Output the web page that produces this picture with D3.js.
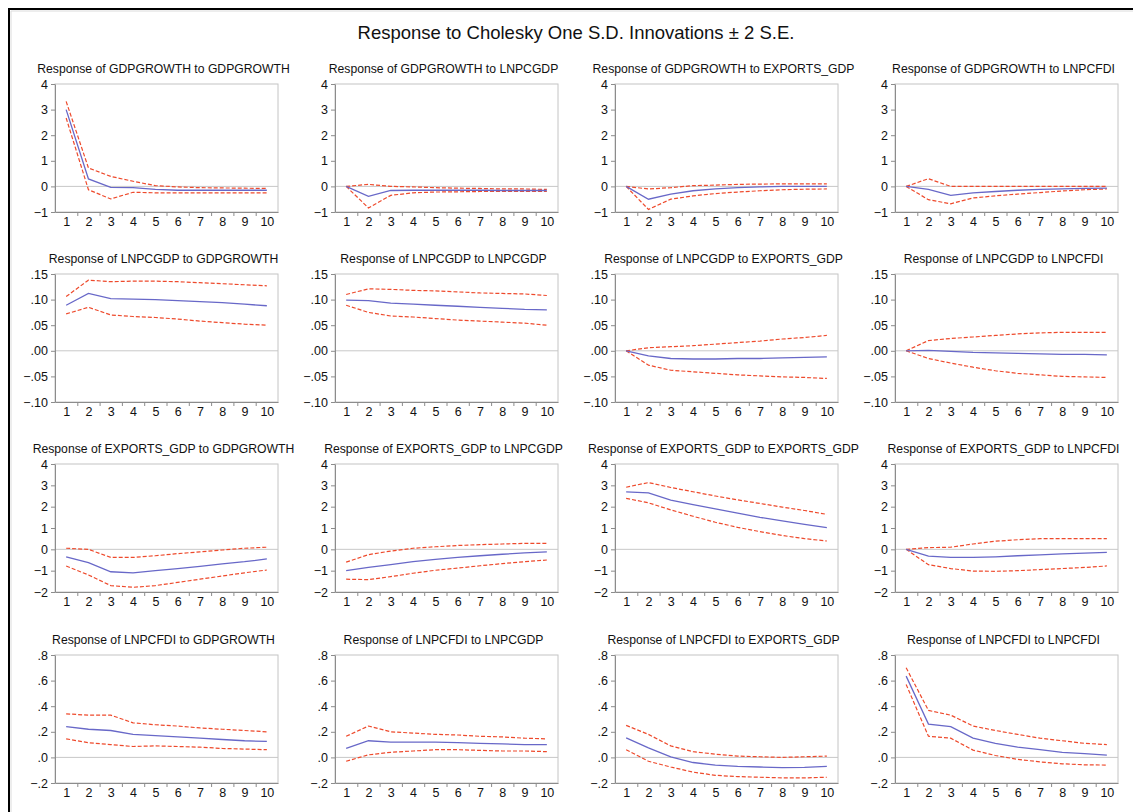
<!DOCTYPE html>
<html>
<head>
<meta charset="utf-8">
<script src="https://cdn.jsdelivr.net/npm/d3@7"></script>
<style>
  body { margin: 0; background: #fff; }
  text { font-family: "Liberation Sans", Arial, sans-serif; }
</style>
</head>
<body>
<div id="chart"></div>
<script>
const variables = ["GDPGROWTH", "LNPCGDP", "EXPORTS_GDP", "LNPCFDI"];
const periods = [1, 2, 3, 4, 5, 6, 7, 8, 9, 10];

// y range / ticks per row (response variable)
const rowDomains = [[-1, 4], [-0.10, 0.15], [-2, 4], [-0.2, 0.8]];
const rowTicks = [
  [-1, 0, 1, 2, 3, 4],
  [-0.10, -0.05, 0, 0.05, 0.10, 0.15],
  [-2, -1, 0, 1, 2, 3, 4],
  [-0.2, 0, 0.2, 0.4, 0.6, 0.8]
];
const rowTickLabels = [
  ["\u22121", "0", "1", "2", "3", "4"],
  ["\u2212.10", "\u2212.05", ".00", ".05", ".10", ".15"],
  ["\u22122", "\u22121", "0", "1", "2", "3", "4"],
  ["\u2212.2", ".0", ".2", ".4", ".6", ".8"]
];

// response[row][col] : response of variables[row] to shock in variables[col]
const response = [
  [
    [3.00, 0.29, -0.04, -0.05, -0.12, -0.15, -0.15, -0.15, -0.15, -0.15],
    [0, -0.39, -0.16, -0.15, -0.15, -0.15, -0.15, -0.16, -0.16, -0.16],
    [0, -0.50, -0.30, -0.17, -0.10, -0.05, -0.02, 0.00, 0.00, 0.00],
    [0, -0.12, -0.35, -0.25, -0.20, -0.15, -0.12, -0.10, -0.08, -0.07]
  ],
  [
    [0.089, 0.112, 0.102, 0.101, 0.100, 0.098, 0.096, 0.094, 0.091, 0.088],
    [0.099, 0.098, 0.093, 0.091, 0.089, 0.087, 0.085, 0.083, 0.081, 0.080],
    [0, -0.010, -0.015, -0.016, -0.016, -0.015, -0.015, -0.014, -0.013, -0.012],
    [0, 0.001, -0.001, -0.003, -0.004, -0.005, -0.006, -0.007, -0.007, -0.008]
  ],
  [
    [-0.35, -0.62, -1.05, -1.10, -1.00, -0.90, -0.80, -0.68, -0.58, -0.45],
    [-1.00, -0.85, -0.72, -0.58, -0.47, -0.38, -0.30, -0.23, -0.17, -0.12],
    [2.69, 2.65, 2.31, 2.10, 1.90, 1.70, 1.50, 1.33, 1.17, 1.02],
    [0, -0.32, -0.38, -0.38, -0.35, -0.30, -0.26, -0.21, -0.18, -0.14]
  ],
  [
    [0.24, 0.22, 0.21, 0.18, 0.17, 0.16, 0.15, 0.14, 0.13, 0.125],
    [0.07, 0.13, 0.12, 0.12, 0.12, 0.115, 0.11, 0.105, 0.10, 0.10],
    [0.152, 0.075, 0.005, -0.04, -0.06, -0.07, -0.075, -0.08, -0.078, -0.07],
    [0.635, 0.26, 0.24, 0.15, 0.11, 0.08, 0.06, 0.04, 0.03, 0.017]
  ]
];

const upperBand = [
  [
    [3.32, 0.72, 0.39, 0.20, 0.03, -0.02, -0.05, -0.06, -0.07, -0.08],
    [0, 0.08, 0.00, -0.02, -0.05, -0.07, -0.08, -0.10, -0.10, -0.12],
    [0, -0.10, -0.05, 0.03, 0.05, 0.08, 0.09, 0.10, 0.10, 0.10],
    [0, 0.30, 0.00, 0.00, 0.00, 0.00, 0.00, 0.00, 0.00, 0.00]
  ],
  [
    [0.106, 0.138, 0.135, 0.136, 0.136, 0.135, 0.133, 0.131, 0.129, 0.127],
    [0.110, 0.121, 0.120, 0.118, 0.117, 0.115, 0.113, 0.112, 0.111, 0.108],
    [0, 0.006, 0.008, 0.010, 0.013, 0.016, 0.019, 0.023, 0.026, 0.030],
    [0, 0.020, 0.024, 0.027, 0.030, 0.033, 0.035, 0.036, 0.036, 0.036]
  ],
  [
    [0.05, 0.00, -0.38, -0.38, -0.30, -0.20, -0.12, -0.03, 0.05, 0.10],
    [-0.60, -0.25, -0.08, 0.05, 0.12, 0.18, 0.22, 0.25, 0.28, 0.28],
    [2.91, 3.13, 2.90, 2.70, 2.50, 2.32, 2.15, 1.98, 1.82, 1.64],
    [0, 0.08, 0.10, 0.25, 0.38, 0.45, 0.50, 0.50, 0.50, 0.50]
  ],
  [
    [0.34, 0.33, 0.33, 0.27, 0.255, 0.245, 0.23, 0.22, 0.21, 0.20],
    [0.165, 0.245, 0.20, 0.19, 0.18, 0.175, 0.165, 0.16, 0.15, 0.145],
    [0.25, 0.18, 0.09, 0.045, 0.025, 0.01, 0.005, 0.00, 0.005, 0.01],
    [0.70, 0.367, 0.33, 0.245, 0.21, 0.18, 0.15, 0.13, 0.11, 0.10]
  ]
];

const lowerBand = [
  [
    [2.67, -0.13, -0.49, -0.23, -0.25, -0.25, -0.25, -0.25, -0.25, -0.25],
    [0, -0.84, -0.35, -0.25, -0.22, -0.21, -0.20, -0.20, -0.20, -0.20],
    [0, -0.90, -0.50, -0.37, -0.28, -0.22, -0.17, -0.13, -0.11, -0.10],
    [0, -0.52, -0.68, -0.45, -0.37, -0.30, -0.24, -0.18, -0.13, -0.10]
  ],
  [
    [0.072, 0.085, 0.070, 0.067, 0.065, 0.062, 0.058, 0.055, 0.052, 0.050],
    [0.089, 0.075, 0.068, 0.066, 0.063, 0.060, 0.058, 0.056, 0.054, 0.050],
    [0, -0.028, -0.038, -0.041, -0.044, -0.047, -0.049, -0.051, -0.052, -0.054],
    [0, -0.015, -0.024, -0.032, -0.039, -0.044, -0.047, -0.050, -0.051, -0.052]
  ],
  [
    [-0.78, -1.20, -1.70, -1.78, -1.70, -1.55, -1.40, -1.25, -1.10, -0.97],
    [-1.40, -1.42, -1.28, -1.12, -0.98, -0.88, -0.77, -0.67, -0.58, -0.50],
    [2.39, 2.18, 1.85, 1.55, 1.27, 1.03, 0.83, 0.65, 0.50, 0.39],
    [0, -0.72, -0.90, -1.02, -1.03, -1.00, -0.95, -0.90, -0.85, -0.78]
  ],
  [
    [0.145, 0.115, 0.10, 0.085, 0.09, 0.085, 0.08, 0.07, 0.065, 0.06],
    [-0.03, 0.02, 0.04, 0.05, 0.06, 0.06, 0.055, 0.05, 0.05, 0.045],
    [0.06, -0.03, -0.075, -0.115, -0.14, -0.15, -0.155, -0.16, -0.16, -0.155],
    [0.57, 0.165, 0.15, 0.057, 0.015, -0.015, -0.035, -0.05, -0.058, -0.06]
  ]
];

const W = 1133, H = 812;
const colLeft = [55, 335, 615, 895];
const rowTop = [84, 274, 464, 655];
const panelW = 223, panelH = 128;

const svg = d3.select("#chart").append("svg")
  .attr("width", W)
  .attr("height", H);

// outer frame (only top/left visible)
svg.append("path")
  .attr("d", `M9,${H} V9 H${W}`)
  .attr("fill", "none")
  .attr("stroke", "#000")
  .attr("stroke-width", 2);
svg.append("path")
  .attr("d", `M11,${H} V11 H${W}`)
  .attr("fill", "none")
  .attr("stroke", "#dcdcdc")
  .attr("stroke-width", 1);

svg.append("text")
  .attr("x", 576)
  .attr("y", 39)
  .attr("text-anchor", "middle")
  .style("font-size", "18.5px")
  .attr("fill", "#111")
  .text("Response to Cholesky One S.D. Innovations \u00b1 2 S.E.");

variables.forEach((respVar, r) => {
  variables.forEach((shockVar, c) => {
    const left = colLeft[c], top = rowTop[r];
    const g = svg.append("g").attr("transform", `translate(${left},${top})`);

    const x = d3.scaleLinear().domain([0.5, 10.5]).range([0, panelW]);
    const y = d3.scaleLinear().domain(rowDomains[r]).range([panelH, 0]);

    g.append("text")
      .attr("x", panelW / 2 - 3)
      .attr("y", -11)
      .attr("text-anchor", "middle")
      .style("font-size", "12.2px")
      .attr("fill", "#111")
      .text(`Response of ${respVar} to ${shockVar}`);

    // box
    g.append("rect")
      .attr("width", panelW)
      .attr("height", panelH)
      .attr("fill", "none")
      .attr("stroke", "#c4c4c4");

    // zero line
    g.append("line")
      .attr("x1", 0).attr("x2", panelW)
      .attr("y1", y(0)).attr("y2", y(0))
      .attr("stroke", "#c8c8c8");

    // y axis
    const yAxis = g.append("g")
      .call(d3.axisLeft(y)
        .tickValues(rowTicks[r])
        .tickFormat((d, i) => rowTickLabels[r][i])
        .tickSize(4)
        .tickSizeOuter(0)
        .tickPadding(3));
    yAxis.select(".domain").attr("stroke", "#8c8c8c");
    yAxis.selectAll(".tick line").attr("stroke", "#8c8c8c");
    yAxis.selectAll("text")
      .style("font-size", "12.5px")
      .style("font-family", "Liberation Sans, Arial, sans-serif")
      .attr("fill", "#111");

    // x axis: tick marks at period boundaries, labels at centres
    const xTicks = g.append("g")
      .attr("transform", `translate(0,${panelH})`)
      .call(d3.axisBottom(x)
        .tickValues(d3.range(1.5, 10.5, 1))
        .tickFormat("")
        .tickSize(4)
        .tickSizeOuter(0));
    xTicks.select(".domain").attr("stroke", "#8c8c8c");
    xTicks.selectAll(".tick line").attr("stroke", "#8c8c8c");

    const xLabels = g.append("g")
      .attr("transform", `translate(0,${panelH})`)
      .call(d3.axisBottom(x)
        .tickValues(periods)
        .tickFormat(d3.format("d"))
        .tickSize(0)
        .tickPadding(5));
    xLabels.select(".domain").remove();
    xLabels.selectAll("text")
      .style("font-size", "12.5px")
      .style("font-family", "Liberation Sans, Arial, sans-serif")
      .attr("fill", "#111");

    const line = d3.line()
      .x((d, i) => x(periods[i]))
      .y(d => y(d));

    [upperBand[r][c], lowerBand[r][c]].forEach(band => {
      g.append("path")
        .datum(band)
        .attr("d", line)
        .attr("fill", "none")
        .attr("stroke", "#ee4a2c")
        .attr("stroke-width", 1.2)
        .attr("stroke-dasharray", "4,2");
    });

    g.append("path")
      .datum(response[r][c])
      .attr("d", line)
      .attr("fill", "none")
      .attr("stroke", "#6868c8")
      .attr("stroke-width", 1.3);
  });
});
</script>
</body>
</html>
